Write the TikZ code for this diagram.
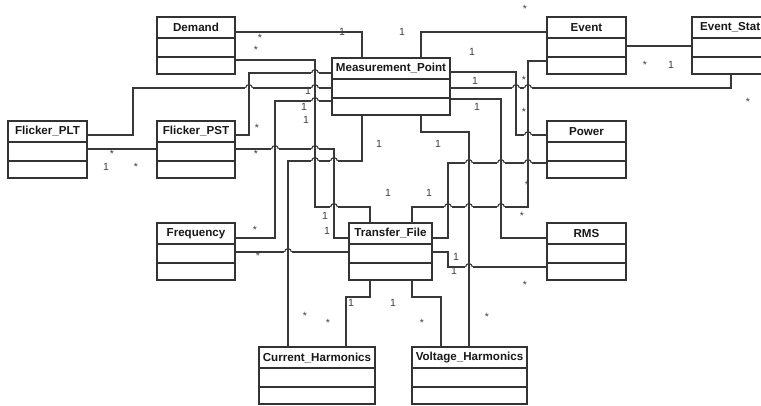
\documentclass[tikz,border=0pt]{standalone}
\usepackage{fontspec}
\setmainfont{Liberation Sans}
\usetikzlibrary{calc}

% class box: name, x, y (top left), width, title
\newcommand{\umlclass}[5]{%
  \node[clsbox, minimum width=#4pt] (#1) at (#2,#3) {};
  \draw[clsline] ([yshift=-21pt]#1.north west) -- ([yshift=-21pt]#1.north east)
                 ([yshift=-40pt]#1.north west) -- ([yshift=-40pt]#1.north east);
  \node[clsname] (#1-t) at ([yshift=-10.5pt]#1.north) {#5};
}
% line jump where a horizontal connector passes over a vertical one
\newcommand{\hop}[2]{%
  \fill[white] (#1-3.9,#2-1.1) rectangle (#1+3.9,#2+1.1);
  \draw[assoc] (#1,#2-4.5) -- (#1,#2+4.5);
  \draw[assoc] (#1-3.4,#2) arc[start angle=180, end angle=0, radius=3.4pt];
}

\begin{document}
\begin{tikzpicture}[
            x=1pt, y=-1pt,
            clsbox/.style  ={draw=black!80, line width=1.2pt, rectangle, anchor=north west,
                             minimum height=57pt, inner sep=0pt, outer sep=0pt},
            clsline/.style ={draw=black!80, line width=1.1pt},
            clsname/.style ={font=\fontsize{11.6}{13}\selectfont\bfseries, text=black!90, inner sep=0pt},
            assoc/.style   ={draw=black!78, line width=1.1pt},
            mult/.style    ={font=\fontsize{10.5}{12}\selectfont, text=black!75, inner sep=0pt},
            multstar/.style={mult, yshift=-2.2pt}
        ]
        \useasboundingbox (0,0) rectangle (761,405);
        \fill[white] (0,0) rectangle (761,405);
        \clip (0,0) rectangle (761,405);

        % classes
        \umlclass{dem}{157}{17}{78}{Demand}
        \umlclass{mp}{332}{58}{118}{Measurement\_Point}
        \umlclass{evt}{547}{17}{79}{Event}
        \umlclass{evs}{692}{17}{90}{}
        \node[clsname, anchor=west] (evs-t) at (700,27.5) {Event\_Stat};
        \umlclass{plt}{8}{121}{79}{Flicker\_PLT}
        \umlclass{pst}{157}{121}{78}{Flicker\_PST}
        \umlclass{pwr}{547}{121}{79}{Power}
        \umlclass{frq}{157}{223}{78}{Frequency}
        \umlclass{tf}{349}{223}{83}{Transfer\_File}
        \umlclass{rms}{547}{223}{79}{RMS}
        \umlclass{ch}{259}{347}{116}{Current\_Harmonics}
        \umlclass{vh}{412}{347}{115}{Voltage\_Harmonics}

        % associations
        \draw[assoc] (dem.east |- 0,32) -| (mp.north -| 362,0);
        \draw[assoc] (dem.east |- 0,60) -| (315,207) -| (tf.north -| 370,0);
        \draw[assoc] (pst.east |- 0,135) -| (249,73) -- (mp.west |- 0,73);
        \draw[assoc] (plt.east |- 0,135) -| (133,88) -- (mp.west |- 0,88);
        \draw[assoc] (plt.east |- 0,149) -- (pst.west |- 0,149);
        \draw[assoc] (mp.west |- 0,101) -| (275,238) -- (frq.east |- 0,238);
        \draw[assoc] (pst.east |- 0,149) -| (334,238) -- (tf.west |- 0,238);
        \draw[assoc] (mp.south -| 362,0) |- (288,161) -- (ch.north -| 288,0);
        \draw[assoc] (frq.east |- 0,252) -- (tf.west |- 0,252);
        \draw[assoc] (tf.south -| 370,0) |- (346,297) -- (ch.north -| 346,0);
        \draw[assoc] (tf.south -| 412,0) |- (441,297) -- (vh.north -| 441,0);
        \draw[assoc] (mp.south -| 421,0) |- (469,132) -- (vh.north -| 469,0);
        \draw[assoc] (mp.north -| 421,0) |- (evt.west |- 0,32);
        \draw[assoc] (mp.east |- 0,72) -| (516,135) -- (pwr.west |- 0,135);
        \draw[assoc] (mp.east |- 0,88) -| (evs.south -| 731,0);
        \draw[assoc] (mp.east |- 0,99) -| (501,238) -- (rms.west |- 0,238);
        \draw[assoc] (evt.west |- 0,61) -| (528,207) -| (tf.north -| 412,0);
        \draw[assoc] (tf.east |- 0,238) -| (448,163) -- (pwr.west |- 0,163);
        \draw[assoc] (tf.east |- 0,252) -| (448,267) -- (rms.west |- 0,267);
        \draw[assoc] (evt.east |- 0,46) -- (evs.west |- 0,46);

        % jumps
        \hop{315}{73}
        \hop{249}{88} \hop{315}{88} \hop{516}{88} \hop{528}{88}
        \hop{315}{101}
        \hop{528}{135}
        \hop{275}{149} \hop{315}{149}
        \hop{315}{161} \hop{334}{161}
        \hop{469}{163} \hop{501}{163} \hop{528}{163}
        \hop{334}{207} \hop{448}{207} \hop{469}{207} \hop{501}{207}
        \hop{288}{252}
        \hop{469}{267}

        % multiplicities
        \foreach \px/\py [count=\i] in {342/32, 308/91, 304/107, 306/120, 106/167,
                325/216, 327/231, 351/303, 379/144, 438/144, 402/32, 472/52,
                475/81, 477/107, 671/65, 388/193, 429/193, 456/257, 454/271, 393/303}
            \node[mult] (one\i) at (\px,\py) {1};
        \foreach \px/\py [count=\i] in {260/36, 256/48, 257/126, 112/152, 136/165,
                256/152, 255/228, 258/254, 305/314, 328/321, 525/7, 524/78,
                524/110, 527/183, 522/214, 645/63, 748/100, 525/283, 422/321, 487/315}
            \node[multstar] (many\i) at (\px,\py) {*};

    \end{tikzpicture}
\end{document}
